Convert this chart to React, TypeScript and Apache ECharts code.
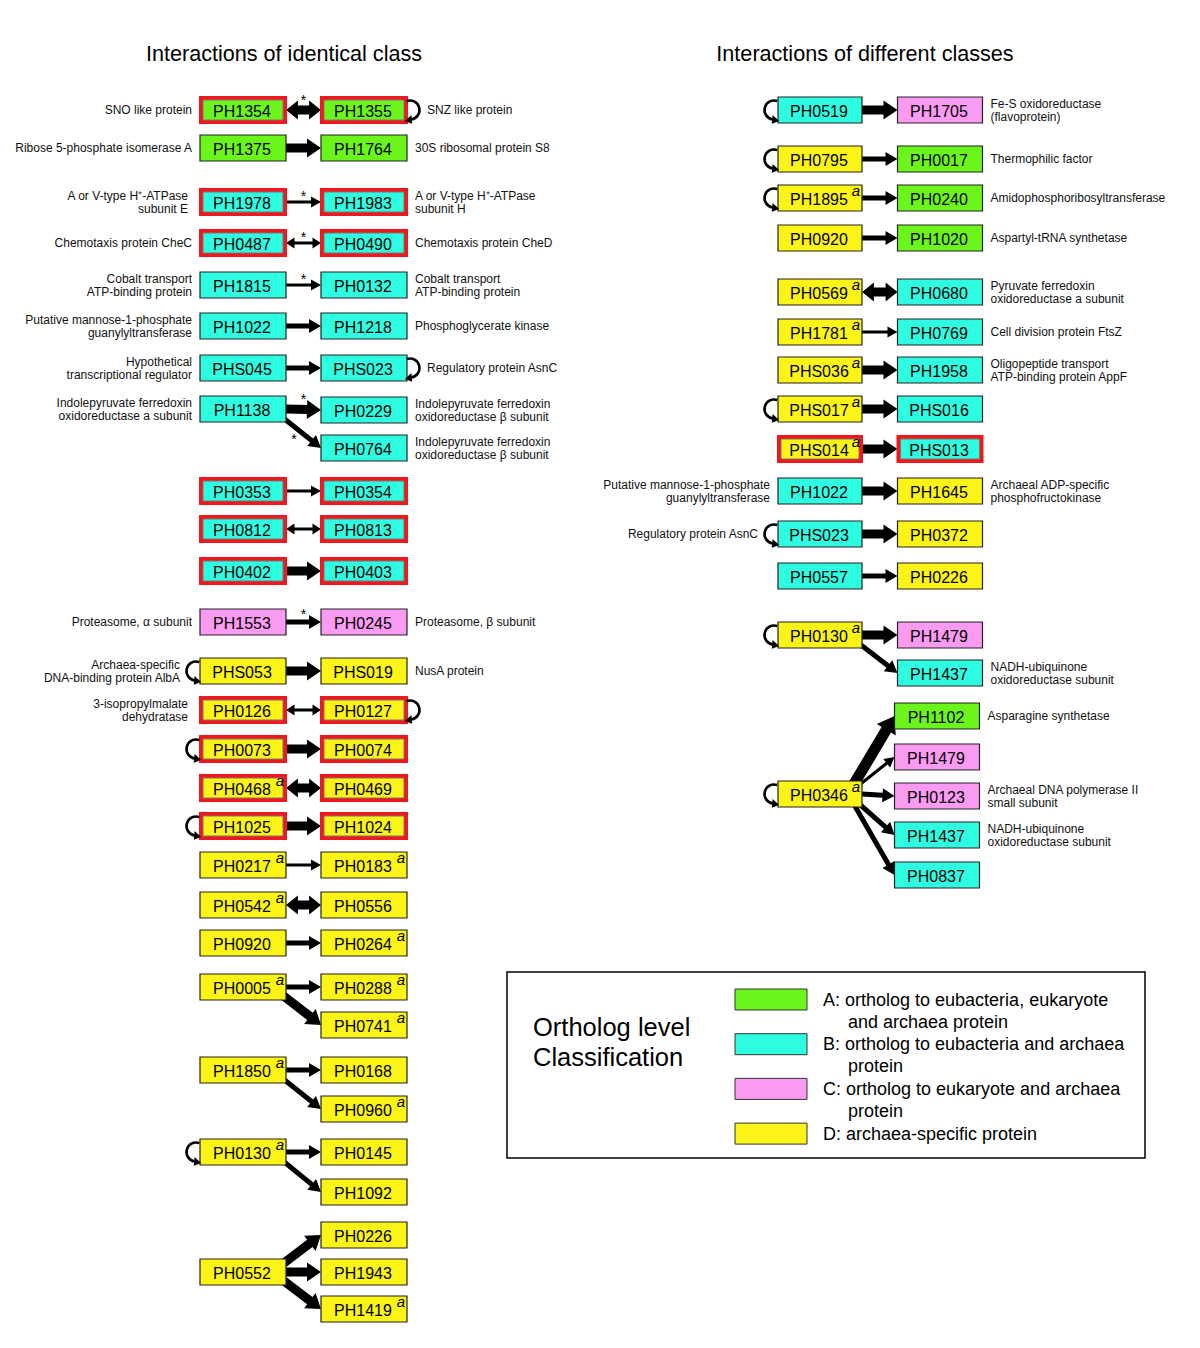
import React, { useEffect, useRef } from "react";
import * as echarts from "echarts";

const FONT = "'Liberation Sans', Arial, Helvetica, sans-serif";
const RED = "#f2161d";

// Ortholog level classes
const classColors: Record<string, string> = {
  A: "#6cf51a",
  B: "#2ffde2",
  C: "#f99bf0",
  D: "#fbf416",
};

// column centres (diagram units)
const COL: Record<string, number> = { L1: 243, L2: 364, R1: 820, R2: 940, R3: 937 };
const BOXW: Record<string, number> = { L1: 86, L2: 86, R1: 84, R2: 85, R3: 85 };
const BOXH = 26;

// nodes: key, label, class, column, row, flags (r = red frame, a = superscript a)
const nodes: [string, string, string, string, number, string][] = [
  ["n1", "PH1354", "A", "L1", 110, "r"],
  ["n2", "PH1355", "A", "L2", 110, "r"],
  ["n3", "PH1375", "A", "L1", 148, ""],
  ["n4", "PH1764", "A", "L2", 148, ""],
  ["n5", "PH1978", "B", "L1", 202, "r"],
  ["n6", "PH1983", "B", "L2", 202, "r"],
  ["n7", "PH0487", "B", "L1", 243, "r"],
  ["n8", "PH0490", "B", "L2", 243, "r"],
  ["n9", "PH1815", "B", "L1", 285, ""],
  ["n10", "PH0132", "B", "L2", 285, ""],
  ["n11", "PH1022", "B", "L1", 326, ""],
  ["n12", "PH1218", "B", "L2", 326, ""],
  ["n13", "PHS045", "B", "L1", 368, ""],
  ["n14", "PHS023", "B", "L2", 368, ""],
  ["n15", "PH1138", "B", "L1", 409, ""],
  ["n16", "PH0229", "B", "L2", 410, ""],
  ["n17", "PH0764", "B", "L2", 448, ""],
  ["n18", "PH0353", "B", "L1", 491, "r"],
  ["n19", "PH0354", "B", "L2", 491, "r"],
  ["n20", "PH0812", "B", "L1", 529, "r"],
  ["n21", "PH0813", "B", "L2", 529, "r"],
  ["n22", "PH0402", "B", "L1", 571, "r"],
  ["n23", "PH0403", "B", "L2", 571, "r"],
  ["n24", "PH1553", "C", "L1", 622, ""],
  ["n25", "PH0245", "C", "L2", 622, ""],
  ["n26", "PHS053", "D", "L1", 671, ""],
  ["n27", "PHS019", "D", "L2", 671, ""],
  ["n28", "PH0126", "D", "L1", 710, "r"],
  ["n29", "PH0127", "D", "L2", 710, "r"],
  ["n30", "PH0073", "D", "L1", 749, "r"],
  ["n31", "PH0074", "D", "L2", 749, "r"],
  ["n32", "PH0468", "D", "L1", 788, "ra"],
  ["n33", "PH0469", "D", "L2", 788, "r"],
  ["n34", "PH1025", "D", "L1", 826, "r"],
  ["n35", "PH1024", "D", "L2", 826, "r"],
  ["n36", "PH0217", "D", "L1", 865, "a"],
  ["n37", "PH0183", "D", "L2", 865, "a"],
  ["n38", "PH0542", "D", "L1", 905, "a"],
  ["n39", "PH0556", "D", "L2", 905, ""],
  ["n40", "PH0920", "D", "L1", 943, ""],
  ["n41", "PH0264", "D", "L2", 943, "a"],
  ["n42", "PH0005", "D", "L1", 987, "a"],
  ["n43", "PH0288", "D", "L2", 987, "a"],
  ["n44", "PH0741", "D", "L2", 1025, "a"],
  ["n45", "PH1850", "D", "L1", 1070, "a"],
  ["n46", "PH0168", "D", "L2", 1070, ""],
  ["n47", "PH0960", "D", "L2", 1109, "a"],
  ["n48", "PH0130", "D", "L1", 1152, "a"],
  ["n49", "PH0145", "D", "L2", 1152, ""],
  ["n50", "PH1092", "D", "L2", 1192, ""],
  ["n51", "PH0552", "D", "L1", 1272, ""],
  ["n52", "PH0226", "D", "L2", 1235, ""],
  ["n53", "PH1943", "D", "L2", 1272, ""],
  ["n54", "PH1419", "D", "L2", 1309, "a"],
  ["r1", "PH0519", "B", "R1", 110, ""],
  ["r2", "PH1705", "C", "R2", 110, ""],
  ["r3", "PH0795", "D", "R1", 159, ""],
  ["r4", "PH0017", "A", "R2", 159, ""],
  ["r5", "PH1895", "D", "R1", 198, "a"],
  ["r6", "PH0240", "A", "R2", 198, ""],
  ["r7", "PH0920", "D", "R1", 238, ""],
  ["r8", "PH1020", "A", "R2", 238, ""],
  ["r9", "PH0569", "D", "R1", 292, "a"],
  ["r10", "PH0680", "B", "R2", 292, ""],
  ["r11", "PH1781", "D", "R1", 332, "a"],
  ["r12", "PH0769", "B", "R2", 332, ""],
  ["r13", "PHS036", "D", "R1", 370, "a"],
  ["r14", "PH1958", "B", "R2", 370, ""],
  ["r15", "PHS017", "D", "R1", 409, "a"],
  ["r16", "PHS016", "B", "R2", 409, ""],
  ["r17", "PHS014", "D", "R1", 449, "ra"],
  ["r18", "PHS013", "B", "R2", 449, "r"],
  ["r19", "PH1022", "B", "R1", 491, ""],
  ["r20", "PH1645", "D", "R2", 491, ""],
  ["r21", "PHS023", "B", "R1", 534, ""],
  ["r22", "PH0372", "D", "R2", 534, ""],
  ["r23", "PH0557", "B", "R1", 576, ""],
  ["r24", "PH0226", "D", "R2", 576, ""],
  ["r25", "PH0130", "D", "R1", 635, "a"],
  ["r26", "PH1479", "C", "R2", 635, ""],
  ["r27", "PH1437", "B", "R2", 673, ""],
  ["r28", "PH0346", "D", "R1", 794, "a"],
  ["r29", "PH1102", "A", "R3", 716, ""],
  ["r30", "PH1479", "C", "R3", 757, ""],
  ["r31", "PH0123", "C", "R3", 796, ""],
  ["r32", "PH1437", "B", "R3", 835, ""],
  ["r33", "PH0837", "B", "R3", 875, ""],
];

// interactions: from, to, strength (1..4), bidirectional, asterisk
const edges: [string, string, number, number, number][] = [
  ["n1", "n2", 3, 1, 1],
  ["n3", "n4", 3, 0, 0],
  ["n5", "n6", 1, 0, 1],
  ["n7", "n8", 1, 1, 1],
  ["n9", "n10", 1, 0, 1],
  ["n11", "n12", 2, 0, 0],
  ["n13", "n14", 2, 0, 0],
  ["n15", "n16", 3, 0, 1],
  ["n15", "n17", 2, 0, 1],
  ["n18", "n19", 1, 0, 0],
  ["n20", "n21", 1, 1, 0],
  ["n22", "n23", 3, 0, 0],
  ["n24", "n25", 2, 0, 1],
  ["n26", "n27", 3, 0, 0],
  ["n28", "n29", 1, 1, 0],
  ["n30", "n31", 3, 0, 0],
  ["n32", "n33", 3, 1, 0],
  ["n34", "n35", 3, 0, 0],
  ["n36", "n37", 1, 0, 0],
  ["n38", "n39", 3, 1, 0],
  ["n40", "n41", 2, 0, 0],
  ["n42", "n43", 2, 0, 0],
  ["n42", "n44", 3, 0, 0],
  ["n45", "n46", 2, 0, 0],
  ["n45", "n47", 2, 0, 0],
  ["n48", "n49", 2, 0, 0],
  ["n48", "n50", 2, 0, 0],
  ["n51", "n52", 3, 0, 0],
  ["n51", "n53", 3, 0, 0],
  ["n51", "n54", 3, 0, 0],
  ["r1", "r2", 3, 0, 0],
  ["r3", "r4", 2, 0, 0],
  ["r5", "r6", 2, 0, 0],
  ["r7", "r8", 2, 0, 0],
  ["r9", "r10", 3, 1, 0],
  ["r11", "r12", 1, 0, 0],
  ["r13", "r14", 3, 0, 0],
  ["r15", "r16", 3, 0, 0],
  ["r17", "r18", 3, 0, 0],
  ["r19", "r20", 3, 0, 0],
  ["r21", "r22", 3, 0, 0],
  ["r23", "r24", 2, 0, 0],
  ["r25", "r26", 3, 0, 0],
  ["r25", "r27", 2, 0, 0],
  ["r28", "r29", 4, 0, 0],
  ["r28", "r30", 1, 0, 0],
  ["r28", "r31", 2, 0, 0],
  ["r28", "r32", 2, 0, 0],
  ["r28", "r33", 2, 0, 0],
];

// self interactions: node, side
const loops: [string, string][] = [
  ["n2", "R"],
  ["n14", "R"],
  ["n26", "L"],
  ["n29", "R"],
  ["n30", "L"],
  ["n34", "L"],
  ["n48", "L"],
  ["r1", "L"],
  ["r3", "L"],
  ["r5", "L"],
  ["r15", "L"],
  ["r21", "L"],
  ["r25", "L"],
  ["r28", "L"],
];

// protein annotations: node, side, text
const annotations: [string, string, string][] = [
  ["n1", "L", "SNO like protein"],
  ["n2", "R", "SNZ like protein"],
  ["n3", "L", "Ribose 5-phosphate isomerase A"],
  ["n4", "R", "30S ribosomal protein S8"],
  ["n5", "L", "A or V-type H⁺-ATPase\nsubunit E"],
  ["n6", "R", "A or V-type H⁺-ATPase\nsubunit H"],
  ["n7", "L", "Chemotaxis protein CheC"],
  ["n8", "R", "Chemotaxis protein CheD"],
  ["n9", "L", "Cobalt transport\nATP-binding protein"],
  ["n10", "R", "Cobalt transport\nATP-binding protein"],
  ["n11", "L", "Putative mannose-1-phosphate\nguanylyltransferase"],
  ["n12", "R", "Phosphoglycerate kinase"],
  ["n13", "L", "Hypothetical\ntranscriptional regulator"],
  ["n14", "R", "Regulatory protein AsnC"],
  ["n15", "L", "Indolepyruvate ferredoxin\noxidoreductase a subunit"],
  ["n16", "R", "Indolepyruvate ferredoxin\noxidoreductase β subunit"],
  ["n17", "R", "Indolepyruvate ferredoxin\noxidoreductase β subunit"],
  ["n24", "L", "Proteasome, α subunit"],
  ["n25", "R", "Proteasome, β subunit"],
  ["n26", "L", "Archaea-specific\nDNA-binding protein AlbA"],
  ["n27", "R", "NusA protein"],
  ["n28", "L", "3-isopropylmalate\ndehydratase"],
  ["r2", "R", "Fe-S oxidoreductase\n(flavoprotein)"],
  ["r4", "R", "Thermophilic factor"],
  ["r6", "R", "Amidophosphoribosyltransferase"],
  ["r8", "R", "Aspartyl-tRNA synthetase"],
  ["r10", "R", "Pyruvate ferredoxin\noxidoreductase a subunit"],
  ["r12", "R", "Cell division protein FtsZ"],
  ["r14", "R", "Oligopeptide transport\nATP-binding protein AppF"],
  ["r19", "L", "Putative mannose-1-phosphate\nguanylyltransferase"],
  ["r20", "R", "Archaeal ADP-specific\nphosphofructokinase"],
  ["r21", "L", "Regulatory protein AsnC"],
  ["r27", "R", "NADH-ubiquinone\noxidoreductase subunit"],
  ["r29", "R", "Asparagine synthetase"],
  ["r31", "R", "Archaeal DNA polymerase II\nsmall subunit"],
  ["r32", "R", "NADH-ubiquinone\noxidoreductase subunit"],
];

const panelTitles: [string, number][] = [
  ["Interactions of identical class", 284],
  ["Interactions of different classes", 865],
];

const legendTitle = ["Ortholog level", "Classification"];
const legendClasses = ["A", "B", "C", "D"];
const legendLines: [string, string][] = [
  ["A: ortholog to eubacteria, eukaryote", "and archaea protein"],
  ["B: ortholog to eubacteria and archaea", "protein"],
  ["C: ortholog to eukaryote and archaea", "protein"],
  ["D: archaea-specific protein", ""],
];

// arrow geometry per strength: shaft width, head width, head length
const ARROW: Record<number, [number, number, number]> = {
  1: [3, 11, 10],
  2: [5, 14, 12],
  3: [9, 19, 14],
  4: [11, 22, 16],
};

const nodeIndex: Record<string, number> = {};
nodes.forEach((n, i) => (nodeIndex[n[0]] = i));
const nodeOf = (k: string) => nodes[nodeIndex[k]];
const pos = (k: string) => {
  const n = nodeOf(k);
  return [COL[n[3]], n[4]];
};

function arrowPoints(p0: number[], p1: number[], sw: number, hw: number, hl: number, bi: boolean) {
  const dx = p1[0] - p0[0];
  const dy = p1[1] - p0[1];
  const L = Math.hypot(dx, dy);
  const ux = dx / L, uy = dy / L, nx = -uy, ny = ux;
  const P = (s: number, t: number) => [p0[0] + ux * s + nx * t, p0[1] + uy * s + ny * t];
  if (bi) {
    const h = hl * 0.85;
    return [
      P(0, 0), P(h, hw / 2), P(h, sw / 2), P(L - h, sw / 2), P(L - h, hw / 2), P(L, 0),
      P(L - h, -hw / 2), P(L - h, -sw / 2), P(h, -sw / 2), P(h, -hw / 2),
    ];
  }
  return [P(0, sw / 2), P(L - hl, sw / 2), P(L - hl, hw / 2), P(L, 0), P(L - hl, -hw / 2), P(L - hl, -sw / 2), P(0, -sw / 2)];
}

function buildOption() {
  const graphic: any[] = [];
  panelTitles.forEach(([t, x]) =>
    graphic.push({
      type: "text",
      style: { text: t, x, y: 53, align: "center", verticalAlign: "middle", fontSize: 21.6, fontFamily: FONT, fill: "#000" },
    })
  );
  graphic.push({
    type: "rect",
    shape: { x: 507, y: 972, width: 638, height: 186 },
    style: { fill: "#fff", stroke: "#000", lineWidth: 1.5 },
    z: 0,
  });
  legendTitle.forEach((t, i) =>
    graphic.push({
      type: "text",
      style: { text: t, x: 533, y: 1027 + i * 30, verticalAlign: "middle", fontSize: 25.5, fontFamily: FONT, fill: "#000" },
      z: 1,
    })
  );
  legendClasses.forEach((c, i) => {
    const y0 = 989 + i * 44.7;
    graphic.push({
      type: "rect",
      shape: { x: 735, y: y0, width: 72, height: 21 },
      style: { fill: classColors[c], stroke: "#333", lineWidth: 1 },
      z: 1,
    });
    graphic.push({
      type: "text",
      style: { text: legendLines[i][0], x: 823, y: y0 + 10.5, verticalAlign: "middle", fontSize: 18, fontFamily: FONT, fill: "#000" },
      z: 1,
    });
    if (legendLines[i][1])
      graphic.push({
        type: "text",
        style: { text: legendLines[i][1], x: 848, y: y0 + 32.5, verticalAlign: "middle", fontSize: 18, fontFamily: FONT, fill: "#000" },
        z: 1,
      });
  });

  const edgeSeries = {
    type: "custom",
    z: 2,
    silent: true,
    data: edges.map((e) => [...pos(e[0]), ...pos(e[1])]),
    encode: { x: [0, 2], y: [1, 3] },
    renderItem: (params: any, api: any) => {
      const e = edges[params.dataIndex];
      const A = nodeOf(e[0]);
      const B = nodeOf(e[1]);
      const ca = api.coord([api.value(0), api.value(1)]);
      const cb = api.coord([api.value(2), api.value(3)]);
      const sa = api.size([BOXW[A[3]], BOXH]);
      const sb = api.size([BOXW[B[3]], BOXH]);
      const horizontal = Math.abs(cb[1] - ca[1]) < 8;
      const p0 = horizontal ? [ca[0] + sa[0] / 2, ca[1]] : [ca[0] + sa[0] / 2 - 14, ca[1]];
      const p1 = [cb[0] - sb[0] / 2, cb[1]];
      const [sw, hw, hl] = ARROW[e[2]];
      const children: any[] = [
        { type: "polygon", shape: { points: arrowPoints(p0, p1, sw, hw, hl, !!e[3]) }, style: { fill: "#000" } },
      ];
      if (e[4]) {
        let sx = (p0[0] + p1[0]) / 2;
        let sy = (p0[1] + p1[1]) / 2;
        if (horizontal) {
          sy -= hw / 2 + 1;
        } else {
          const L = Math.hypot(p1[0] - p0[0], p1[1] - p0[1]);
          const nx = -(p1[1] - p0[1]) / L, ny = (p1[0] - p0[0]) / L;
          sx += nx * 4;
          sy += ny * 6 + 6;
        }
        children.push({
          type: "text",
          style: { text: "*", x: sx, y: sy, align: "center", verticalAlign: "middle", fontSize: 14, fontFamily: FONT, fill: "#000" },
        });
      }
      return { type: "group", children };
    },
  };

  const loopSeries = {
    type: "custom",
    z: 4,
    silent: true,
    data: loops.map((l) => pos(l[0])),
    encode: { x: 0, y: 1 },
    renderItem: (params: any, api: any) => {
      const [key, side] = loops[params.dataIndex];
      const n = nodeOf(key);
      const c = api.coord([api.value(0), api.value(1)]);
      const s = api.size([BOXW[n[3]], BOXH]);
      const r = 9.5;
      const deg = Math.PI / 180;
      let cx: number, start: number, end: number, th: number, dir: number[];
      if (side === "L") {
        cx = c[0] - s[0] / 2 - 4;
        start = 95 * deg;
        end = 290 * deg;
        th = 95 * deg;
        dir = [Math.sin(th), -Math.cos(th)];
      } else {
        cx = c[0] + s[0] / 2 + 3;
        start = -110 * deg;
        end = 85 * deg;
        th = 85 * deg;
        dir = [-Math.sin(th), Math.cos(th)];
      }
      const cy = c[1];
      const px = cx + r * Math.cos(th);
      const py = cy + r * Math.sin(th);
      const nx = -dir[1], ny = dir[0];
      const tip = [px + dir[0] * 6, py + dir[1] * 6 + 1];
      const b1 = [px - dir[0] * 1 + nx * 4.5, py - dir[1] * 1 + ny * 4.5];
      const b2 = [px - dir[0] * 1 - nx * 4.5, py - dir[1] * 1 - ny * 4.5];
      return {
        type: "group",
        children: [
          {
            type: "arc",
            shape: { cx, cy, r, startAngle: start, endAngle: end, clockwise: true },
            style: { stroke: "#000", lineWidth: 2.6, fill: "none" },
          },
          { type: "polygon", shape: { points: [tip, b1, b2] }, style: { fill: "#000" } },
        ],
      };
    },
  };

  const nodeSeries = {
    type: "custom",
    z: 3,
    silent: true,
    data: nodes.map((n) => [COL[n[3]], n[4]]),
    encode: { x: 0, y: 1 },
    renderItem: (params: any, api: any) => {
      const n = nodes[params.dataIndex];
      const c = api.coord([api.value(0), api.value(1)]);
      const s = api.size([BOXW[n[3]], BOXH]);
      const x = c[0] - s[0] / 2;
      const y = c[1] - s[1] / 2;
      const fill = classColors[n[2]];
      const children: any[] = [];
      if (n[5].includes("r")) {
        children.push({ type: "rect", shape: { x: x - 1, y: y - 1, width: s[0] + 2, height: s[1] + 2 }, style: { fill: RED } });
        children.push({
          type: "rect",
          shape: { x: x + 3, y: y + 3, width: s[0] - 6, height: s[1] - 6 },
          style: { fill, stroke: "#777", lineWidth: 1 },
        });
      } else {
        children.push({ type: "rect", shape: { x, y, width: s[0], height: s[1] }, style: { fill, stroke: "#222", lineWidth: 1.2 } });
      }
      children.push({
        type: "text",
        style: { text: n[1], x: c[0] - 1, y: c[1] + 1, align: "center", verticalAlign: "middle", fontSize: 16, fontFamily: FONT, fill: "#000" },
      });
      if (n[5].includes("a")) {
        children.push({
          type: "text",
          style: {
            text: "a",
            x: x + s[0] - 2,
            y: y - 2,
            align: "right",
            verticalAlign: "top",
            fontSize: 15,
            fontStyle: "italic",
            fontFamily: FONT,
            fill: "#000",
          },
        });
      }
      return { type: "group", children };
    },
  };

  const annotationSeries = {
    type: "custom",
    z: 3,
    silent: true,
    data: annotations.map((a) => pos(a[0])),
    encode: { x: 0, y: 1 },
    renderItem: (params: any, api: any) => {
      const [key, side, text] = annotations[params.dataIndex];
      const n = nodeOf(key);
      const c = api.coord([api.value(0), api.value(1)]);
      const s = api.size([BOXW[n[3]], BOXH]);
      const hasLoop = loops.some((l) => l[0] === key && l[1] === side);
      const framed = n[5].includes("r") && side === "L" && !hasLoop && text.includes("\n");
      const gap = 8 + (hasLoop ? 12 : 0) + (framed ? 4 : 0);
      const x = side === "L" ? c[0] - s[0] / 2 - gap : c[0] + s[0] / 2 + gap;
      return {
        type: "text",
        style: {
          text,
          x,
          y: c[1],
          align: side === "L" ? "right" : "left",
          verticalAlign: "middle",
          fontSize: 12,
          lineHeight: 13,
          fontFamily: FONT,
          fill: "#111",
        },
      };
    },
  };

  return {
    animation: false,
    backgroundColor: "#fff",
    grid: { left: 0, right: 0, top: 0, bottom: 0 },
    xAxis: { type: "value", min: 0, max: 1200, show: false },
    yAxis: { type: "value", min: 0, max: 1348, inverse: true, show: false },
    graphic,
    series: [edgeSeries, loopSeries, nodeSeries, annotationSeries],
  };
}

export default function App() {
  const ref = useRef<HTMLDivElement>(null);
  useEffect(() => {
    if (!ref.current) return;
    const chart = echarts.init(ref.current, null, { renderer: "svg" });
    chart.setOption(buildOption() as any);
    return () => chart.dispose();
  }, []);
  return (
    <div
      ref={ref}
      style={{ position: "absolute", left: 0, top: 0, width: 1200, height: 1348, background: "#fff" }}
    />
  );
}
